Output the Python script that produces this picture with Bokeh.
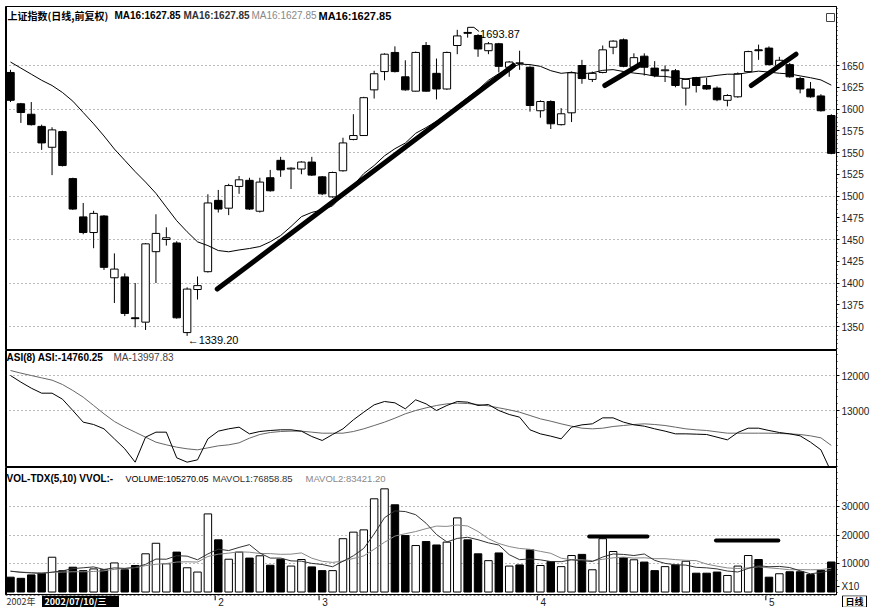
import numpy as np
import pandas as pd
from bokeh.plotting import figure
from bokeh.layouts import column
from bokeh.models import Range1d, FixedTicker, Span
from bokeh.core.properties import value
from bokeh.embed import file_html
from bokeh.resources import INLINE

# ---------------- data ----------------
opens = [1642, 1606, 1594, 1580, 1556, 1574, 1520, 1476, 1458, 1477,
         1406, 1407, 1360, 1355, 1436, 1450, 1446, 1343, 1392.5, 1413,
         1495, 1486, 1511, 1518, 1482.5, 1521, 1541, 1531, 1531, 1539,
         1522, 1499, 1529, 1565, 1569.5, 1622, 1643, 1665, 1637, 1620.5,
         1673, 1641, 1623, 1673, 1688, 1684.5, 1667, 1675, 1648, 1653,
         1648, 1598, 1608.6, 1582, 1595.6, 1650, 1634, 1642, 1671, 1679.5,
         1648, 1660.7, 1647, 1644, 1644, 1624, 1636, 1627, 1624, 1610,
         1614, 1643, 1668, 1670, 1650, 1651, 1635, 1623, 1615, 1592.5]
highs = [1645, 1607, 1608, 1582, 1579, 1575, 1521, 1492, 1483, 1478,
         1434, 1411, 1400, 1446, 1479, 1464, 1448, 1395, 1407.5, 1502,
         1507, 1514, 1523, 1521, 1521, 1530, 1545, 1533, 1540, 1545,
         1523, 1528, 1567, 1594, 1614, 1644, 1664, 1672, 1656, 1666,
         1677, 1658, 1666, 1691, 1693.87, 1686, 1677, 1676, 1655, 1667,
         1649, 1610, 1610, 1601, 1643, 1656.5, 1643, 1673, 1679, 1681,
         1664, 1664, 1655, 1650, 1646, 1635, 1637, 1636, 1626, 1617,
         1642, 1667, 1674, 1672, 1660, 1653, 1637, 1631, 1617, 1594]
lows = [1608, 1584, 1581, 1553, 1524, 1534, 1484, 1456, 1440, 1415,
        1377, 1362, 1349, 1346, 1400, 1443, 1359, 1339.2, 1381, 1412,
        1481, 1478, 1502.5, 1484, 1481, 1505, 1522, 1508, 1525, 1523,
        1501, 1498, 1528, 1564, 1569, 1612, 1633, 1642, 1621, 1620,
        1620, 1611, 1622, 1663, 1682, 1660, 1663, 1642, 1637, 1645,
        1597, 1590, 1577, 1581, 1585, 1629, 1631, 1641, 1663, 1648,
        1647, 1638.5, 1636.5, 1631, 1625, 1604, 1619, 1622, 1609, 1603,
        1613, 1642, 1656.5, 1650, 1648, 1636, 1618, 1613, 1597, 1548]
closes = [1610, 1596, 1582, 1561, 1576, 1535, 1485, 1458, 1480, 1418,
          1416, 1365, 1359, 1445, 1457, 1452, 1360, 1393, 1397, 1492,
          1485, 1512, 1518.6, 1485, 1516, 1506, 1530, 1532, 1539, 1524,
          1502.5, 1527, 1561, 1569.5, 1613, 1640.5, 1663, 1643, 1622, 1665,
          1620.5, 1623, 1665, 1684, 1687, 1669, 1675, 1649, 1654, 1652.5,
          1604, 1608.6, 1583, 1594.5, 1641.6, 1635, 1641, 1668, 1678, 1649,
          1659, 1648, 1638.5, 1645, 1627, 1634, 1627, 1623, 1610.6, 1615.5,
          1640.5, 1666, 1667, 1651, 1656, 1637, 1623, 1614, 1598, 1549]
# MA16 values of the first 15 days (earlier closes are off-chart)
ma16_head = [1654, 1647, 1640, 1633, 1627, 1619, 1609, 1596, 1583, 1569,
             1554, 1541, 1528, 1516, 1503]

volumes = [5200, 4800, 6000, 6600, 12200, 7500, 8700, 7500, 8100, 7800,
           10200, 7800, 9300, 13400, 17100, 9900, 14000, 8500, 7000, 27400,
           18300, 11500, 14000, 11900, 12700, 9400, 11500, 9100, 11400, 8800,
           7500, 7500, 18700, 21000, 21800, 32700, 36200, 30600, 19800, 16300,
           17700, 16500, 17500, 26000, 18300, 13400, 11000, 13700, 9100, 9500,
           14800, 9300, 10700, 8900, 12800, 13200, 7800, 18700, 14200, 12000,
           11300, 10500, 7500, 8900, 9500, 10800, 6600, 6600, 7000, 5800,
           9100, 12800, 11400, 5200, 6400, 7100, 7100, 6100, 7600, 10527.005]
vol_ma5_head = [7300, 6900, 6700, 6500]
vol_ma10_head = [7300, 7000, 6800, 6700, 6900, 7000, 7100, 7100, 7200]

asi = [-12000, -12190, -12362, -12505, -12505, -12676, -13000, -13333, -13400, -13524,
       -13810, -14095, -14476, -13762, -13619, -13619, -14352, -14476, -14410, -13810,
       -13590, -13524, -13476, -13667, -13600, -13571, -13552, -13552, -13590, -13743,
       -13857, -13686, -13524, -13267, -13048, -12838, -12743, -12781, -12952, -12695,
       -12810, -13000, -12857, -12743, -12762, -12857, -12829, -13000, -13114, -13190,
       -13552, -13667, -13733, -13810, -13476, -13410, -13381, -13210, -13210, -13333,
       -13410, -13448, -13524, -13590, -13667, -13667, -13676, -13686, -13762, -13838,
       -13629, -13505, -13505, -13571, -13629, -13667, -13724, -13905, -14124, -14760.25]
asi_ma = [-11857, -11933, -12000, -12067, -12133, -12257, -12429, -12619, -12857, -13095,
          -13314, -13476, -13619, -13762, -13905, -13981, -14048, -14095, -14124, -14067,
          -14010, -13981, -13924, -13790, -13686, -13629, -13600, -13590, -13590, -13619,
          -13648, -13648, -13648, -13600, -13524, -13429, -13333, -13219, -13095, -13000,
          -12924, -12857, -12810, -12790, -12800, -12829, -12867, -12924, -12981, -13048,
          -13143, -13238, -13305, -13381, -13448, -13505, -13524, -13505, -13457, -13429,
          -13400, -13381, -13400, -13429, -13476, -13524, -13552, -13571, -13610, -13648,
          -13648, -13648, -13648, -13648, -13657, -13667, -13686, -13724, -13781, -13997.83]

price_ticks = list(range(1350, 1651, 25))
price_grid = list(range(1350, 1651, 50))
asi_ticks = [-12000, -13000]
asi_tick_labels = ["12000", "13000"]
vol_ticks = [10000, 20000, 30000]
vol_unit_label = "X10"
month_pos = [20, 30, 51, 73]
month_labels = ["2", "3", "4", "5"]

# hand-drawn annotation strokes (day index, value)
trend_x0 = [19.9, 57.2, 71.3]
trend_y0 = [1393, 1627, 1627]
trend_x1 = [48.4, 61.0, 75.6]
trend_y1 = [1650, 1654, 1663]
volmark_x0 = [55.7, 67.9]
volmark_x1 = [61.3, 73.9]
volmark_y = [19500, 18100]

low_idx, low_val = 17, 1339.20
high_idx, high_val = 44, 1693.87

# ---------------- derived series ----------------
n = len(closes)
xs = np.arange(n)
o = np.array(opens, float); c = np.array(closes, float)
h = np.array(highs, float); l = np.array(lows, float)
up = c >= o
ma16 = pd.Series(c).rolling(16).mean().to_numpy()
ma16[:15] = ma16_head
v = pd.Series(volumes, dtype=float)
mavol1 = v.rolling(5).mean().to_numpy(); mavol1[:4] = vol_ma5_head
mavol2 = v.rolling(10).mean().to_numpy(); mavol2[:9] = vol_ma10_head

# ---------------- layout geometry (page pixels) ----------------
LEFT = 5                  # frame left edge
FW = 831                  # frame width
X0, X1 = -0.48, 79.5
PPU = FW / (X1 - X0)
XR = Range1d(X0, X1)
def xd(px):               # page px -> day index
    return X0 + (px - LEFT) / PPU

def price_at(py): return 1650 - (py - 65) / 0.87
def asi_at(py): return -12000 - (py - 375) / 0.035
def vol_at(py): return (591.5 - py) / 0.00285

FONT = "Liberation Sans"
CJK = "Noto Sans CJK SC"

def panel(hgt, y0, y1, ticks, minor, grid, overrides=None, top=0):
    p = figure(frame_width=FW, frame_height=hgt, x_range=XR, y_range=Range1d(y0, y1),
               output_backend="svg", toolbar_location=None,
               x_axis_location=None, y_axis_location="right",
               min_border_left=LEFT, min_border_right=34, min_border_top=top,
               min_border_bottom=0)
    p.outline_line_color = "black"
    p.outline_line_width = 1
    p.background_fill_color = "white"
    p.border_fill_color = "white"
    p.xgrid.visible = False
    p.ygrid.ticker = FixedTicker(ticks=grid)
    p.ygrid.grid_line_color = "#777777"
    p.ygrid.grid_line_dash = "1 3"
    ax = p.yaxis[0]
    ax.ticker = FixedTicker(ticks=ticks, minor_ticks=minor)
    if overrides:
        ax.major_label_overrides = overrides
    ax.major_label_text_font = FONT
    ax.major_label_text_font_size = "10px"
    ax.major_label_text_color = "#222222"
    ax.major_tick_out = 3
    ax.major_tick_in = 0
    ax.minor_tick_out = 1
    ax.minor_tick_in = 0
    ax.major_label_standoff = 2
    ax.axis_line_color = "black"
    p.add_layout(Span(location=X0, dimension="height", line_color="black", line_width=3))
    return p

def txt(p, x, y, s, color="black", bold=False, size="10px", font=FONT, align="left"):
    p.text(x=[x], y=[y], text=[s], text_font=value(font), text_font_size=value(size),
           text_color=color, text_font_style="bold" if bold else "normal",
           text_baseline="middle", text_align=align)

# ---------------- price panel: page y 6..350 ----------------
p1 = panel(344, price_at(350), price_at(6), price_ticks,
           list(np.arange(1325, 1720, 5.0)), price_grid, top=6)
p1.segment(x0=xs, y0=l, x1=xs, y1=h, line_color="black", line_width=1)
bw = 0.72
p1.vbar(x=xs[~up], width=bw, top=np.maximum(o, c)[~up], bottom=np.minimum(o, c)[~up],
        fill_color="black", line_color="black", line_width=1)
p1.vbar(x=xs[up], width=bw, top=np.maximum(o, c)[up], bottom=np.minimum(o, c)[up],
        fill_color="white", line_color="black", line_width=1)
p1.line(xs, ma16, line_color="black", line_width=1)
p1.segment(x0=trend_x0, y0=trend_y0, x1=trend_x1, y1=trend_y1,
           line_color="black", line_width=5, line_cap="round")
txt(p1, low_idx + 0.05, price_at(339), "\u2190" + f"{low_val:.2f}", size="11px")
p1.line([high_idx, high_idx + 0.6, high_idx + 1.1],
        [high_val, high_val, price_at(31)], line_color="black", line_width=1)
txt(p1, high_idx + 1.2, price_at(33), f"{high_val:.2f}", size="11px")
p1.quad(left=[xd(826)], right=[xd(834)], bottom=[price_at(21)], top=[price_at(13)],
        fill_color="white", line_color="#444444")

ty = price_at(15)
txt(p1, xd(7), ty, "上证指数(日线,前复权)", bold=True, font=CJK)
txt(p1, xd(114), ty, "MA16:1627.85", bold=True)
txt(p1, xd(183), ty, "MA16:1627.85", color="#333333", bold=True)
txt(p1, xd(251), ty, "MA16:1627.85", color="#888888")
txt(p1, xd(318), ty, "MA16:1627.85", bold=True, size="11px")

# ---------------- ASI panel: page y 350..467 ----------------
p2 = panel(117, asi_at(467), asi_at(350), asi_ticks,
           list(np.arange(-14600, -11300, 200.0)), asi_ticks,
           overrides={t: s for t, s in zip(asi_ticks, asi_tick_labels)})
p2.line(xs, asi_ma, line_color="#666666", line_width=1)
p2.line(xs, asi, line_color="black", line_width=1)
ay = asi_at(357)
txt(p2, xd(6), ay, "ASI(8) ASI:-14760.25", bold=True)
txt(p2, xd(113), ay, "MA-13997.83", color="#444444")

# ---------------- VOL panel: page y 467..595 ----------------
unit_tick = round(vol_at(586))
p3 = panel(128, vol_at(595), vol_at(467), [unit_tick] + vol_ticks,
           list(np.arange(0, 44000, 2000.0)), vol_ticks,
           overrides={unit_tick: vol_unit_label})
vv = np.array(volumes, float)
p3.vbar(x=xs[~up], width=bw, top=vv[~up], bottom=0, fill_color="black", line_color="black")
p3.vbar(x=xs[up], width=bw, top=vv[up], bottom=0, fill_color="white", line_color="black")
p3.line(xs, mavol2, line_color="#888888", line_width=1)
p3.line(xs, mavol1, line_color="#333333", line_width=1)
p3.segment(x0=volmark_x0, y0=volmark_y, x1=volmark_x1, y1=volmark_y,
           line_color="black", line_width=4, line_cap="round")
vy = vol_at(478)
txt(p3, xd(6), vy, "VOL-TDX(5,10) VVOL:-", bold=True)
txt(p3, xd(125), vy, "VOLUME:105270.05", size="9px")
txt(p3, xd(212), vy, "MAVOL1:76858.85", color="#333333", size="9.5px")
txt(p3, xd(305), vy, "MAVOL2:83421.20", color="#888888", size="9.5px")

# ---------------- bottom date row: page y 595..607 ----------------
BW = 865
p4 = figure(frame_width=BW, frame_height=12, x_range=Range1d(X0, X0 + BW / PPU),
            y_range=Range1d(0, 1), output_backend="svg", toolbar_location=None,
            x_axis_location=None, y_axis_location=None,
            min_border_left=LEFT, min_border_right=0, min_border_top=0, min_border_bottom=0)
p4.outline_line_color = None
p4.xgrid.visible = False
p4.ygrid.visible = False
p4.segment(x0=[X0], y0=[1], x1=[X1], y1=[1], line_color="black", line_dash="2 2")
txt(p4, xd(6), 0.5, "2002年", color="#333333", size="9px", font=CJK)
p4.quad(left=[xd(42)], right=[xd(118)], bottom=[0.0], top=[0.95], fill_color="black",
        line_color="black")
txt(p4, xd(44), 0.5, "2002/07/10/三", color="white", bold=True, size="9px", font=CJK)
mp = np.array(month_pos, float)
p4.segment(x0=mp - 0.3, y0=[1] * len(mp), x1=mp - 0.3, y1=[0.6] * len(mp),
           line_color="black")
p4.text(x=mp, y=[0.5] * len(mp), text=month_labels, text_font=value(FONT),
        text_font_size=value("10px"), text_baseline="middle", text_align="left",
        text_color="#222222")
p4.quad(left=[xd(842)], right=[xd(866)], bottom=[0.02], top=[0.98], fill_color="white",
        line_color="black")
txt(p4, xd(854), 0.5, "日线", bold=True, size="9px", font=CJK, align="center")

layout = column(p1, p2, p3, p4, spacing=0)
open("out.html", "w").write(file_html(layout, INLINE))
